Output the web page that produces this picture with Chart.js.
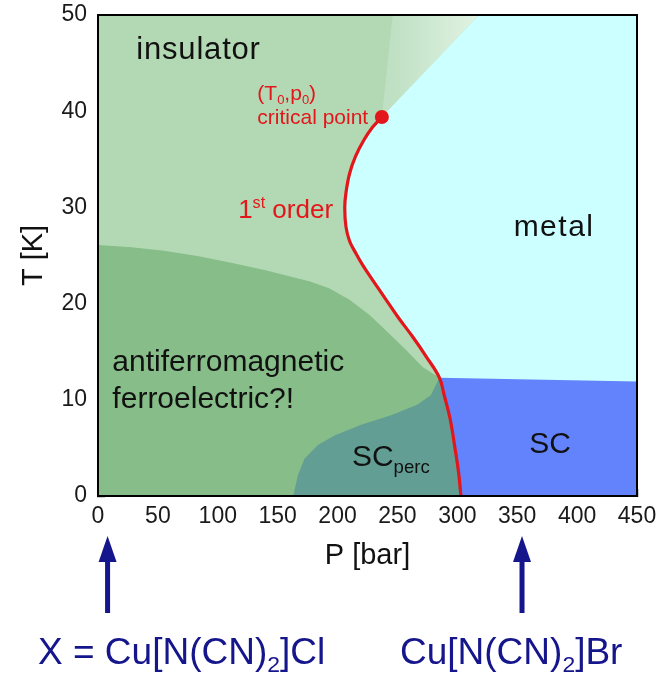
<!DOCTYPE html>
<html>
<head>
<meta charset="utf-8">
<script src="https://cdn.jsdelivr.net/npm/chart.js@4.4.1/dist/chart.umd.min.js"></script>
<style>
  html, body { margin: 0; padding: 0; background: #fff; }
  #wrap { width: 666px; height: 676px; position: relative; }
</style>
</head>
<body>
<div id="wrap"><canvas id="chart"></canvas></div>
<script>
// axis ticks
const pTicks = [0, 50, 100, 150, 200, 250, 300, 350, 400, 450];
const tTicks = [0, 10, 20, 30, 40, 50];

// 1st order line, from the critical point down to T = 0 (P in bar, T in K)
const redP = [237, 229, 222, 215, 210, 207, 206, 207, 210, 215, 221, 229, 240, 251, 263, 274, 285, 289, 294, 298, 301, 303];
const redT = [39.4, 38.3, 37.0, 35.3, 33.5, 31.5, 30.0, 28.0, 26.5, 25.3, 24.0, 22.5, 20.5, 18.5, 16.5, 14.5, 12.3, 10.5, 8.0, 5.0, 2.5, 0];
const critP = [237];
const critT = [39.4];

// crossover wedge above the critical point (top edge)
const wedgeP = [246, 318];
const wedgeT = [50, 50];

// antiferromagnetic boundary
const afP = [0, 28, 55, 83, 111, 139, 167, 177, 193, 210, 227, 243, 257, 271, 285];
const afT = [26.1, 25.85, 25.5, 24.95, 24.25, 23.5, 22.6, 22.3, 21.6, 20.4, 18.8, 16.9, 15.2, 13.4, 12.3];

// percolative SC boundary
const percP = [163, 167, 172.5, 183.6, 197.5, 219.7, 244.7, 267, 278, 285];
const percT = [0, 2.2, 3.9, 5.3, 6.3, 7.4, 8.4, 9.5, 10.5, 12.3];

// bulk SC top boundary
const scP = [285, 450];
const scT = [12.3, 11.9];

// compounds marked below the axis
const compoundP = [8, 354];

const pts = (P, T) => P.map((p, i) => ({x: p, y: T[i]}));
const redAll = pts(redP, redT);
const redLow = redAll.filter(d => d.y < 12.3);
const crit = pts(critP, critT);

const insulatorPoly = pts([0, 0, 450, 450], [0, 50, 50, 0]);
const wedgePoly = crit.concat(pts(wedgeP, wedgeT));
const metalPoly = pts([450, wedgeP[1]], [50, 50]).concat(redAll, pts([450], [0]));
const afPoly = pts([0], [0]).concat(pts(afP, afT), redLow);
const percPoly = pts(percP, percT).concat(redLow);
const scPoly = pts(scP, scT).concat(pts([450], [0]), redLow.slice().reverse());

const FONT = "'Liberation Sans', Arial, sans-serif";

function region(data, color, order) {
  return {
    data, order, backgroundColor: color, fill: 'shape',
    borderWidth: 0, pointRadius: 0, tension: 0
  };
}

function drawRich(ctx, parts, x, y, size, color, spacing) {
  // parts: [text, kind] kind 0 normal, 1 subscript, 2 superscript
  ctx.fillStyle = color;
  ctx.textBaseline = 'alphabetic';
  ctx.textAlign = 'left';
  ctx.letterSpacing = spacing || '0px';
  let cx = x;
  const base = y + size * 0.36;
  parts.forEach(([t, k]) => {
    const s = k ? size * 0.62 : size;
    ctx.font = s + 'px ' + FONT;
    const dy = k === 1 ? size * 0.22 : k === 2 ? -size * 0.38 : 0;
    ctx.fillText(t, cx, base + dy);
    cx += ctx.measureText(t).width;
  });
  ctx.letterSpacing = '0px';
  return cx - x;
}

const overlay = {
  id: 'overlay',
  afterDatasetsDraw(chart) {
    const {ctx, chartArea: a, scales: {x, y}} = chart;
    ctx.save();
    ctx.strokeStyle = '#000';
    ctx.lineWidth = 2;
    ctx.strokeRect(a.left, a.top, a.right - a.left, a.bottom - a.top);

    const px = v => x.getPixelForValue(v);
    const py = v => y.getPixelForValue(v);
    drawRich(ctx, [['insulator', 0]], px(32), py(46.6), 31, '#111', '0.8px');
    drawRich(ctx, [['metal', 0]], px(347), py(28.2), 30, '#111', '1.5px');
    drawRich(ctx, [['antiferromagnetic', 0]], px(12), py(14.1), 30, '#111');
    drawRich(ctx, [['ferroelectric?!', 0]], px(12), py(10.3), 30, '#111');
    drawRich(ctx, [['SC', 0], ['perc', 1]], px(212), py(4.2), 30, '#111');
    drawRich(ctx, [['SC', 0]], px(360), py(5.6), 30, '#111');

    const red = '#e3161b';
    drawRich(ctx, [['(T', 0], ['0', 1], [',p', 0], ['0', 1], [')', 0]], px(133), py(42.0), 21, red);
    drawRich(ctx, [['critical point', 0]], px(133), py(39.5), 21, red);
    drawRich(ctx, [['1', 0], ['st', 2], [' order', 0]], px(117), py(29.9), 26, red);
    ctx.restore();
  },
  afterDraw(chart) {
    const {ctx, scales: {x}} = chart;
    const navy = '#15158c';
    ctx.save();
    ctx.fillStyle = navy;
    compoundP.forEach(p => {
      const cx = x.getPixelForValue(p);
      ctx.fillRect(cx - 2.5, 558, 5, 55);
      ctx.beginPath();
      ctx.moveTo(cx, 536);
      ctx.lineTo(cx - 9, 562);
      ctx.lineTo(cx + 9, 562);
      ctx.closePath();
      ctx.fill();
    });
    drawRich(ctx, [['X = Cu[N(CN)', 0], ['2', 1], [']Cl', 0]], 38, 651, 37, navy);
    drawRich(ctx, [['Cu[N(CN)', 0], ['2', 1], [']Br', 0]], 400, 651, 37, navy);
    ctx.restore();
  }
};

new Chart(document.getElementById('chart'), {
  type: 'line',
  data: {
    datasets: [
      {data: crit, order: 1, showLine: false, pointRadius: 7, pointBackgroundColor: '#e3161b', pointBorderWidth: 0},
      {data: redAll, order: 2, borderColor: '#e3161b', borderWidth: 3.2, pointRadius: 0, tension: 0.4, fill: false},
      region(scPoly, '#6383fc', 4),
      region(percPoly, '#629e93', 5),
      region(afPoly, '#86bd88', 6),
      region(metalPoly, '#ccffff', 7),
      {
        data: wedgePoly, order: 8, fill: 'shape', borderWidth: 0, pointRadius: 0, tension: 0,
        backgroundColor: (c) => {
          const ch = c.chart;
          if (!ch.chartArea) return '#cbe8ce';
          const sx = ch.scales.x;
          const g = ch.ctx.createLinearGradient(sx.getPixelForValue(wedgeP[0]), 0, sx.getPixelForValue(wedgeP[1]), 0);
          g.addColorStop(0, '#bfe0c3');
          g.addColorStop(1, '#e2f3e3');
          return g;
        }
      },
      region(insulatorPoly, '#b3d9b4', 9)
    ]
  },
  options: {
    responsive: true,
    maintainAspectRatio: false,
    animation: false,
    events: [],
    layout: {padding: {left: 0, right: 29, top: 15, bottom: 0}},
    plugins: {legend: {display: false}, tooltip: {enabled: false}},
    scales: {
      x: {
        type: 'linear', min: 0, max: 450, z: 1,
        afterBuildTicks: s => { s.ticks = pTicks.map(v => ({value: v})); },
        afterFit: s => { s.height = 180; s.paddingLeft = 0; s.paddingRight = 0; },
        grid: {drawOnChartArea: false, drawTicks: true, tickLength: -7, tickColor: '#333', tickWidth: 1.5},
        border: {display: true, color: '#000', width: 2},
        ticks: {padding: 14, color: '#1a1a1a', font: {family: FONT, size: 23}},
        title: {display: true, text: 'P [bar]', color: '#111', font: {family: FONT, size: 29}, padding: {top: 0, bottom: 103}}
      },
      y: {
        type: 'linear', min: 0, max: 50, z: 1,
        afterBuildTicks: s => { s.ticks = tTicks.map(v => ({value: v})); },
        afterFit: s => { s.width = 98; s.paddingTop = 0; s.paddingBottom = 0; },
        grid: {drawOnChartArea: false, drawTicks: true, tickLength: -7, tickColor: '#333', tickWidth: 1.5},
        border: {display: true, color: '#000', width: 2},
        ticks: {padding: 18, color: '#1a1a1a', font: {family: FONT, size: 23}},
        title: {display: true, text: 'T [K]', color: '#111', font: {family: FONT, size: 29}, padding: {top: 17, bottom: 0}}
      }
    }
  },
  plugins: [overlay]
});
</script>
</body>
</html>
